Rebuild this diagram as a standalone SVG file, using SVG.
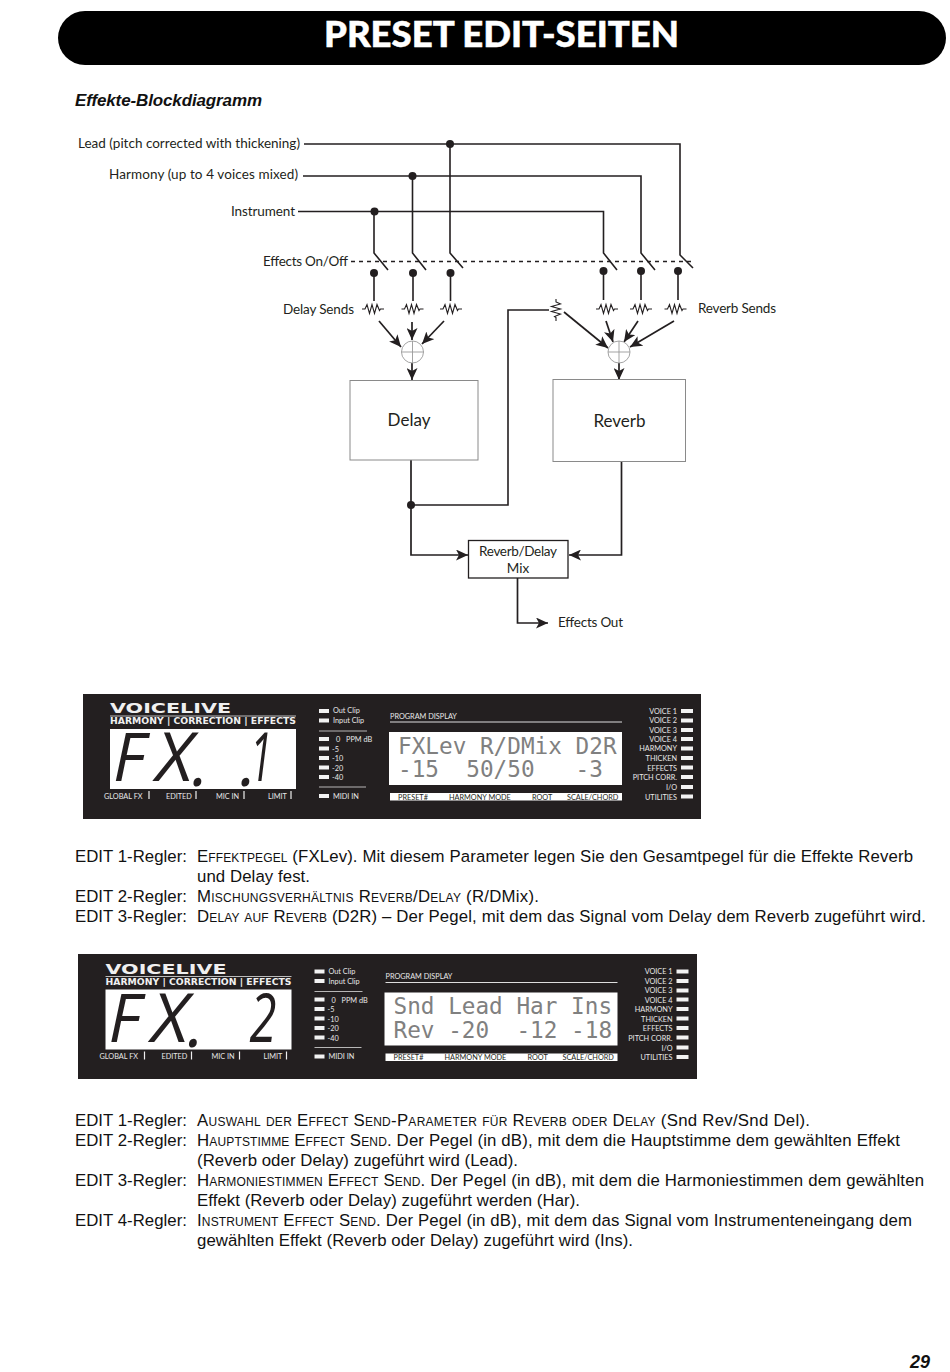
<svg xmlns="http://www.w3.org/2000/svg" width="950" height="1372" viewBox="0 0 950 1372">
<style>
text{font-family:"Liberation Sans",Arial,sans-serif}
.d{font-family:Lato,"Open Sans",sans-serif;font-size:13.5px;fill:#231f20}
.l{fill:none;stroke:#231f20;stroke-width:1.6}
.a{fill:none;stroke:#231f20;stroke-width:1.7;marker-end:url(#ah)}
.box{fill:#fff;stroke:#8a8a8a;stroke-width:1}
.sum{fill:#fff;stroke:#999;stroke-width:.9}
.r{fill:none;stroke:#231f20;stroke-width:1.1}
.b{font-size:16.8px;fill:#111}
.sc{font-variant:small-caps}
.bg{fill:#231f20}
.w{fill:#fff}
.p{font-family:Lato,"Open Sans",sans-serif;font-size:7.300px;fill:#e8e8e8}
.pe{font-family:Lato,"Open Sans",sans-serif;font-size:7.300px;fill:#e8e8e8;text-anchor:end}
.pb{font-family:Lato,"Open Sans",sans-serif;font-size:7.300px;fill:#231f20}
.lcd{font-family:"DejaVu Sans Mono","Liberation Mono",monospace;font-size:22.7px;fill:#808080}
.big{font-family:"Open Sans",sans-serif;font-weight:400;font-style:italic;font-size:67px;fill:#231f20}
.vl{font-family:"DejaVu Sans",sans-serif;font-weight:700;fill:#f0f0f0}
</style>
<defs>
<marker id="ah" viewBox="0 0 12 11" refX="12" refY="5.500" markerWidth="12" markerHeight="11" markerUnits="userSpaceOnUse" orient="auto"><path d="M0,0L12,5.500L0,11L3,5.500Z" fill="#231f20"/></marker>
<path id="res" d="M-11,0H-8L-6,-4.500L-3.500,4.500L-1,-4.500L1.500,4.500L4,-4.500L6.500,1.500L7.500,0H11" class="r"/>
<rect id="led" width="10" height="4" fill="#f2f2f2"/>
<rect id="ledr" width="12" height="4" fill="#f2f2f2"/>
</defs>
<rect width="950" height="1372" fill="#fff"/>
<g id="header"><rect x="58" y="11" width="888" height="54" rx="27" fill="#000"/>
<text x="324" y="47" textLength="355" lengthAdjust="spacingAndGlyphs" stroke="#fff" stroke-width=".5" style="font-family:Lato,sans-serif;font-weight:900;font-size:36px" fill="#fff">PRESET EDIT-SEITEN</text></g>
<text id="heading" x="75" y="106" textLength="187" style="font-weight:700;font-style:italic;font-size:17px" fill="#111">Effekte-Blockdiagramm</text>

<g id="connectors">
<path class="l" d="M304,144H680V255L693,268"/>
<path class="l" d="M303,176H641V253L655,270"/>
<path class="l" d="M298,211.500H603.500V253L617,270"/>
<path class="l" d="M374,211.500V253L388,270"/>
<path class="l" d="M412.500,176V253L426,270"/>
<path class="l" d="M450,144V253L463,268"/>
<path d="M351,261.500H692" fill="none" stroke="#231f20" stroke-width="1.500" stroke-dasharray="4 4"/>
<path class="l" d="M374,273V301M413,273V301M450.500,273V301M603.500,271V300M641,271V300M678,271V300"/>
<path class="a" d="M379,321L401,347"/><path class="a" d="M412,322V340"/><path class="a" d="M444,321L422,344"/><path class="a" d="M412,363V380"/>
<path class="a" d="M564,312L608,348"/><path class="a" d="M606,321L613,342"/><path class="a" d="M638,321L624,342"/><path class="a" d="M674,321L630,347"/><path class="a" d="M619,363V380"/>
<path class="l" d="M549,310H508V505H411"/>
<path class="a" d="M411,460V555H468"/><path class="a" d="M621.500,462V555H569"/><path class="a" d="M517.500,578V623H548"/>
</g>
<g id="junctions" fill="#231f20">
<circle cx="450" cy="144" r="4"/><circle cx="412.500" cy="176" r="4"/><circle cx="374.500" cy="211.500" r="4"/>
<circle cx="374" cy="273" r="4"/><circle cx="413" cy="273" r="4"/><circle cx="450.500" cy="273" r="4"/>
<circle cx="603.500" cy="271" r="4"/><circle cx="641" cy="271" r="4"/><circle cx="678" cy="271" r="4"/><circle cx="411" cy="505" r="4"/>
</g>
<g id="resistors">
<use href="#res" x="373" y="309"/><use href="#res" x="412.500" y="309"/><use href="#res" x="451" y="309"/>
<use href="#res" x="607" y="309"/><use href="#res" x="641" y="309"/><use href="#res" x="675.500" y="309"/>
<use href="#res" transform="translate(556,310) rotate(90)"/>
</g>
<g id="sum-delay"><circle class="sum" cx="412.500" cy="352" r="11"/><path class="sum" d="M401.500,352H423.500M412.500,341V363"/></g>
<g id="sum-reverb"><circle class="sum" cx="619" cy="352" r="11"/><path class="sum" d="M608,352H630M619,341V363"/></g>
<g id="delay"><rect class="box" x="350" y="380.500" width="128" height="79.500"/><text class="d" x="409" y="426" text-anchor="middle" style="font-size:17px">Delay</text></g>
<g id="reverb"><rect class="box" x="553" y="379.500" width="132.500" height="82"/><text class="d" x="619.500" y="426.500" text-anchor="middle" style="font-size:17px">Reverb</text></g>
<g id="mix"><rect x="468.500" y="540.500" width="99.500" height="37.500" fill="#fff" stroke="#231f20" stroke-width="1.300"/><text class="d" x="479" y="556" textLength="78">Reverb/Delay</text><text class="d" x="518" y="573" text-anchor="middle">Mix</text></g>
<g id="labels">
<text class="d" x="78" y="148" textLength="222">Lead (pitch corrected with thickening)</text>
<text class="d" x="109" y="179" textLength="189">Harmony (up to 4 voices mixed)</text>
<text class="d" x="231" y="216" textLength="64">Instrument</text>
<text class="d" x="263" y="266" textLength="85">Effects On/Off</text>
<text class="d" x="283" y="314" textLength="71">Delay Sends</text>
<text class="d" x="698" y="313" textLength="78">Reverb Sends</text>
<text class="d" x="558" y="627" textLength="65">Effects Out</text>
</g>

<g id="panel1">
<rect class="bg" x="83" y="694" width="618" height="125"/>
<text class="vl" x="110" y="713" textLength="121" lengthAdjust="spacingAndGlyphs" style="font-size:14px">VOICELIVE</text>
<rect x="110" y="715.500" width="186" height="1" fill="#bbb"/>
<text class="vl" x="110" y="724" textLength="186" lengthAdjust="spacingAndGlyphs" style="font-size:8px">HARMONY | CORRECTION | EFFECTS</text>
<rect class="w" x="110" y="729" width="186" height="60"/>
<text class="big" x="113" y="781" textLength="32" lengthAdjust="spacingAndGlyphs">F</text><text class="big" x="156" y="781" textLength="37" lengthAdjust="spacingAndGlyphs">X</text><text class="big" x="192" y="786">.</text><text class="big" x="240" y="786">.</text><text class="big" x="250" y="781" textLength="22" lengthAdjust="spacingAndGlyphs">1</text>
<text class="p" x="104" y="798.500">GLOBAL FX</text><text class="p" x="166" y="798.500">EDITED</text><text class="p" x="216" y="798.500">MIC IN</text><text class="p" x="268" y="798.500">LIMIT</text>
<path d="M149,791V799M196,791V799M244,791V799M291,791V799" stroke="#eee" stroke-width="1.200"/>
<use href="#led" x="319" y="709"/><use href="#led" x="319" y="718.500"/>
<text class="p" x="333" y="713">Out Clip</text><text class="p" x="333" y="723">Input Clip</text>
<path d="M319,731H367M319,787H366" stroke="#ddd" stroke-width=".8"/>
<use href="#led" x="319" y="737"/><use href="#led" x="319" y="746.500"/><use href="#led" x="319" y="756"/><use href="#led" x="319" y="765.500"/><use href="#led" x="319" y="775"/>
<text class="p" x="336" y="742">0</text><text class="p" x="346" y="742">PPM dB</text><text class="p" x="332" y="751.500">-5</text><text class="p" x="332" y="761">-10</text><text class="p" x="332" y="770.500">-20</text><text class="p" x="332" y="780">-40</text>
<use href="#led" x="319" y="794"/><text class="p" x="333" y="798.500">MIDI IN</text>
<text class="p" x="390" y="718.500">PROGRAM DISPLAY</text>
<rect x="390" y="721.500" width="232" height="1" fill="#ddd"/>
<rect class="w" x="389" y="732" width="233" height="53"/>
<text class="lcd" x="398" y="753.500" xml:space="preserve">FXLev R/DMix D2R</text>
<text class="lcd" x="398" y="777" xml:space="preserve">-15  50/50   -3</text>
<rect class="w" x="390" y="793" width="232" height="7.500"/>
<text class="pb" x="398" y="799.500">PRESET#</text><text class="pb" x="449" y="799.500">HARMONY MODE</text><text class="pb" x="532" y="799.500">ROOT</text><text class="pb" x="567" y="799.500">SCALE/CHORD</text>
<text class="pe" x="677" y="713.500">VOICE 1</text><text class="pe" x="677" y="723">VOICE 2</text><text class="pe" x="677" y="732.500">VOICE 3</text><text class="pe" x="677" y="742">VOICE 4</text><text class="pe" x="677" y="751">HARMONY</text><text class="pe" x="677" y="761">THICKEN</text><text class="pe" x="677" y="770.500">EFFECTS</text><text class="pe" x="677" y="780">PITCH CORR.</text><text class="pe" x="677" y="790">I/O</text><text class="pe" x="677" y="799.500">UTILITIES</text>
<use href="#ledr" x="681" y="709"/><use href="#ledr" x="681" y="718.500"/><use href="#ledr" x="681" y="728"/><use href="#ledr" x="681" y="737"/><use href="#ledr" x="681" y="746.500"/><use href="#ledr" x="681" y="756"/><use href="#ledr" x="681" y="765.500"/><use href="#ledr" x="681" y="775"/><use href="#ledr" x="681" y="785"/><use href="#ledr" x="681" y="794.500"/>
</g>

<g id="edit1">
<text class="b" x="75" y="862" textLength="112">EDIT 1-Regler:</text><text class="b" x="197" y="862" textLength="716"><tspan class="sc">Effektpegel</tspan> (FXLev). Mit diesem Parameter legen Sie den Gesamtpegel für die Effekte Reverb</text>
<text class="b" x="197" y="882" textLength="113">und Delay fest.</text>
<text class="b" x="75" y="902" textLength="112">EDIT 2-Regler:</text><text class="b" x="197" y="902" textLength="342"><tspan class="sc">Mischungsverhältnis Reverb/Delay</tspan> (R/DMix).</text>
<text class="b" x="75" y="922" textLength="112">EDIT 3-Regler:</text><text class="b" x="197" y="922" textLength="729"><tspan class="sc">Delay auf Reverb</tspan> (D2R) – Der Pegel, mit dem das Signal vom Delay dem Reverb zugeführt wird.</text>
</g>

<g id="panel2" transform="translate(-4.500,260.500)">
<rect class="bg" x="82.500" y="693.500" width="619" height="125"/>
<text class="vl" x="110" y="713" textLength="121" lengthAdjust="spacingAndGlyphs" style="font-size:14px">VOICELIVE</text>
<rect x="110" y="715.500" width="186" height="1" fill="#bbb"/>
<text class="vl" x="110" y="724" textLength="186" lengthAdjust="spacingAndGlyphs" style="font-size:8px">HARMONY | CORRECTION | EFFECTS</text>
<rect class="w" x="110" y="729" width="186" height="60"/>
<text class="big" x="113" y="781" textLength="32" lengthAdjust="spacingAndGlyphs">F</text><text class="big" x="156" y="781" textLength="37" lengthAdjust="spacingAndGlyphs">X</text><text class="big" x="192" y="786">.</text><text class="big" x="254" y="781" textLength="27" lengthAdjust="spacingAndGlyphs">2</text>
<text class="p" x="104" y="798.500">GLOBAL FX</text><text class="p" x="166" y="798.500">EDITED</text><text class="p" x="216" y="798.500">MIC IN</text><text class="p" x="268" y="798.500">LIMIT</text>
<path d="M149,791V799M196,791V799M244,791V799M291,791V799" stroke="#eee" stroke-width="1.200"/>
<use href="#led" x="319" y="709"/><use href="#led" x="319" y="718.500"/>
<text class="p" x="333" y="713">Out Clip</text><text class="p" x="333" y="723">Input Clip</text>
<path d="M319,731H367M319,787H366" stroke="#ddd" stroke-width=".8"/>
<use href="#led" x="319" y="737"/><use href="#led" x="319" y="746.500"/><use href="#led" x="319" y="756"/><use href="#led" x="319" y="765.500"/><use href="#led" x="319" y="775"/>
<text class="p" x="336" y="742">0</text><text class="p" x="346" y="742">PPM dB</text><text class="p" x="332" y="751.500">-5</text><text class="p" x="332" y="761">-10</text><text class="p" x="332" y="770.500">-20</text><text class="p" x="332" y="780">-40</text>
<use href="#led" x="319" y="794"/><text class="p" x="333" y="798.500">MIDI IN</text>
<text class="p" x="390" y="718.500">PROGRAM DISPLAY</text>
<rect x="390" y="721.500" width="232" height="1" fill="#ddd"/>
<rect class="w" x="389" y="732" width="233" height="53"/>
<text class="lcd" x="398" y="753.500" xml:space="preserve">Snd Lead Har Ins</text>
<text class="lcd" x="398" y="777" xml:space="preserve">Rev -20  -12 -18</text>
<rect class="w" x="390" y="793" width="232" height="7.500"/>
<text class="pb" x="398" y="799.500">PRESET#</text><text class="pb" x="449" y="799.500">HARMONY MODE</text><text class="pb" x="532" y="799.500">ROOT</text><text class="pb" x="567" y="799.500">SCALE/CHORD</text>
<text class="pe" x="677" y="713.500">VOICE 1</text><text class="pe" x="677" y="723">VOICE 2</text><text class="pe" x="677" y="732.500">VOICE 3</text><text class="pe" x="677" y="742">VOICE 4</text><text class="pe" x="677" y="751">HARMONY</text><text class="pe" x="677" y="761">THICKEN</text><text class="pe" x="677" y="770.500">EFFECTS</text><text class="pe" x="677" y="780">PITCH CORR.</text><text class="pe" x="677" y="790">I/O</text><text class="pe" x="677" y="799.500">UTILITIES</text>
<use href="#ledr" x="681" y="709"/><use href="#ledr" x="681" y="718.500"/><use href="#ledr" x="681" y="728"/><use href="#ledr" x="681" y="737"/><use href="#ledr" x="681" y="746.500"/><use href="#ledr" x="681" y="756"/><use href="#ledr" x="681" y="765.500"/><use href="#ledr" x="681" y="775"/><use href="#ledr" x="681" y="785"/><use href="#ledr" x="681" y="794.500"/>
</g>

<g id="edit2">
<text class="b" x="75" y="1126" textLength="112">EDIT 1-Regler:</text><text class="b" x="197" y="1126" textLength="613"><tspan class="sc">Auswahl der Effect Send-Parameter für Reverb oder Delay</tspan> (Snd Rev/Snd Del).</text>
<text class="b" x="75" y="1146" textLength="112">EDIT 2-Regler:</text><text class="b" x="197" y="1146" textLength="703"><tspan class="sc">Hauptstimme Effect Send</tspan>. Der Pegel (in dB), mit dem die Hauptstimme dem gewählten Effekt</text>
<text class="b" x="197" y="1166" textLength="321">(Reverb oder Delay) zugeführt wird (Lead).</text>
<text class="b" x="75" y="1186" textLength="112">EDIT 3-Regler:</text><text class="b" x="197" y="1186" textLength="727"><tspan class="sc">Harmoniestimmen Effect Send</tspan>. Der Pegel (in dB), mit dem die Harmoniestimmen dem gewählten</text>
<text class="b" x="197" y="1206" textLength="383">Effekt (Reverb oder Delay) zugeführt werden (Har).</text>
<text class="b" x="75" y="1226" textLength="112">EDIT 4-Regler:</text><text class="b" x="197" y="1226" textLength="715"><tspan class="sc">Instrument Effect Send</tspan>. Der Pegel (in dB), mit dem das Signal vom Instrumenteneingang dem</text>
<text class="b" x="197" y="1246" textLength="436">gewählten Effekt (Reverb oder Delay) zugeführt wird (Ins).</text>
</g>
<text id="page" x="930" y="1368" text-anchor="end" style="font-weight:700;font-style:italic;font-size:18px" fill="#111">29</text>
</svg>
